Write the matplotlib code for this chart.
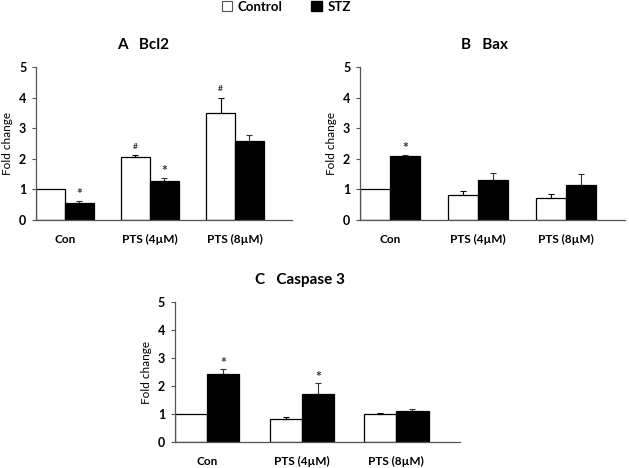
import matplotlib
matplotlib.use('Agg')
import matplotlib.pyplot as plt
import numpy as np
from matplotlib.patches import Patch

plt.rcParams['font.family'] = ['Lato', 'DejaVu Sans']
plt.rcParams['font.weight'] = 'bold'

categories = ['Con', 'PTS (4\u00b5M)', 'PTS (8\u00b5M)']

# panel A - Bcl2
bcl2_ctrl = [1.0, 2.07, 3.5]
bcl2_ctrl_err = [0.0, 0.04, 0.5]
bcl2_stz = [0.55, 1.28, 2.57]
bcl2_stz_err = [0.07, 0.09, 0.21]
bcl2_marks_ctrl = ['', '#', '#']
bcl2_marks_stz = ['*', '*', '']

# panel B - Bax
bax_ctrl = [1.0, 0.8, 0.72]
bax_ctrl_err = [0.0, 0.15, 0.13]
bax_stz = [2.1, 1.3, 1.15]
bax_stz_err = [0.02, 0.25, 0.35]
bax_marks_ctrl = ['', '', '']
bax_marks_stz = ['*', '', '']

# panel C - Caspase 3
casp_ctrl = [1.0, 0.83, 1.0]
casp_ctrl_err = [0.0, 0.05, 0.04]
casp_stz = [2.43, 1.73, 1.12]
casp_stz_err = [0.17, 0.37, 0.06]
casp_marks_ctrl = ['', '', '']
casp_marks_stz = ['*', '*', '']

fig = plt.figure(figsize=(6.29, 4.68), dpi=100)

def draw_panel(rect, title, title_x, ctrl, ctrl_err, stz, stz_err, marks_ctrl, marks_stz):
    ax = fig.add_axes(rect)
    x = np.arange(len(categories))
    w = 0.34
    ax.bar(x - w / 2, ctrl, w, color='white', edgecolor='black', linewidth=0.9, zorder=2)
    ax.bar(x + w / 2, stz, w, color='black', edgecolor='black', linewidth=0.9, zorder=2)
    for i in range(len(x)):
        if ctrl_err[i] > 0:
            ax.errorbar(x[i] - w / 2, ctrl[i], yerr=[[0], [ctrl_err[i]]], fmt='none',
                        ecolor='black', elinewidth=0.8, capsize=2, capthick=0.8, zorder=3)
        if stz_err[i] > 0:
            ax.errorbar(x[i] + w / 2, stz[i], yerr=[[0], [stz_err[i]]], fmt='none',
                        ecolor='#333333', elinewidth=0.8, capsize=2, capthick=0.8, zorder=1)
        if marks_ctrl[i]:
            ax.text(x[i] - w / 2, ctrl[i] + ctrl_err[i] + 0.18, marks_ctrl[i],
                    ha='center', va='bottom', fontsize=6, color='#333333')
        if marks_stz[i]:
            ax.text(x[i] + w / 2, stz[i] + stz_err[i] + 0.02, marks_stz[i],
                    ha='center', va='bottom', fontsize=10, color='#333333')
    ax.set_xlim(-0.34, 2.67)
    ax.set_ylim(0, 5)
    ax.set_yticks(range(6))
    ax.set_xticks(x)
    ax.set_xticklabels(categories, fontsize=8.5)
    ax.tick_params(axis='x', length=0, pad=10)
    ax.tick_params(axis='y', length=3, width=0.8, labelsize=9, pad=4, color='#555555')
    for s in ['top', 'right']:
        ax.spines[s].set_visible(False)
    for s in ['left', 'bottom']:
        ax.spines[s].set_color('#555555')
        ax.spines[s].set_linewidth(0.9)
    ax.set_ylabel('Fold change', fontsize=8.5, labelpad=4)
    ax.set_title(title, x=title_x, fontsize=11, fontweight='bold', pad=13)
    return ax

draw_panel([0.0572, 0.530, 0.407, 0.327], 'A   Bcl2', 0.42,
           bcl2_ctrl, bcl2_ctrl_err, bcl2_stz, bcl2_stz_err, bcl2_marks_ctrl, bcl2_marks_stz)
draw_panel([0.5723, 0.530, 0.421, 0.327], 'B   Bax', 0.47,
           bax_ctrl, bax_ctrl_err, bax_stz, bax_stz_err, bax_marks_ctrl, bax_marks_stz)
draw_panel([0.278, 0.0556, 0.453, 0.299], 'C   Caspase 3', 0.44,
           casp_ctrl, casp_ctrl_err, casp_stz, casp_stz_err, casp_marks_ctrl, casp_marks_stz)

# legend at the top
handles = [Patch(facecolor='white', edgecolor='#555555', linewidth=0.8, label='Control'),
           Patch(facecolor='black', edgecolor='black', label='STZ')]
fig.legend(handles=handles, loc='center', bbox_to_anchor=(0.455, 0.985), ncol=2, frameon=False,
           fontsize=9.5, handlelength=0.8, handleheight=0.8, handletextpad=0.4, columnspacing=2.2)

fig.savefig('out.png', dpi=100, facecolor='white')
